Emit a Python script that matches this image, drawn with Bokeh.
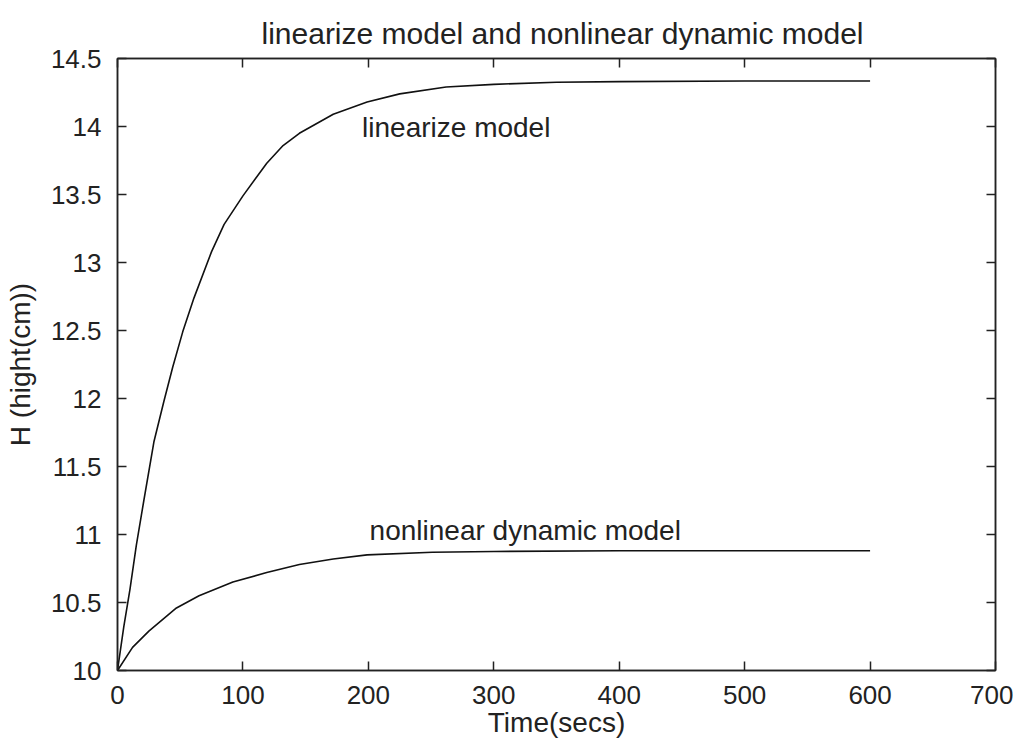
from bokeh.plotting import figure
from bokeh.models import LinearAxis, FixedTicker, Range1d, CustomJSTickFormatter
from bokeh.core.properties import value
from bokeh.embed import file_html
from bokeh.resources import INLINE

# ---- data ----
lin_t = [0, 5, 10, 15, 21, 29, 37, 44, 52, 61, 75, 85, 100, 119, 132, 145, 172, 199, 225, 262, 300, 350, 400, 500, 600]
lin_h = [10.00, 10.32, 10.60, 10.92, 11.25, 11.68, 11.98, 12.23, 12.49, 12.74, 13.08, 13.28, 13.49, 13.73, 13.86,
         13.95, 14.09, 14.18, 14.24, 14.29, 14.31, 14.325, 14.33, 14.335, 14.335]

non_t = [0, 12, 25, 47, 65, 92, 119, 145, 172, 199, 251, 300, 400, 500, 600]
non_h = [10.00, 10.17, 10.29, 10.46, 10.55, 10.65, 10.72, 10.78, 10.82, 10.85, 10.87, 10.875, 10.88, 10.88, 10.88]

x_ticks = [0, 100, 200, 300, 400, 500, 600, 700]
x_tick_labels = ["0", "100", "200", "300", "400", "500", "600", "700"]
y_ticks = [10, 10.5, 11, 11.5, 12, 12.5, 13, 13.5, 14, 14.5]
y_tick_labels = ["10", "10.5", "11", "11.5", "12", "12.5", "13", "13.5", "14", "14.5"]

label_names = ["linearize model", "nonlinear dynamic model"]
label_x = [195, 201]
label_y = [13.99, 11.03]

FONT = "Liberation Sans"

p = figure(width=1013, height=745, output_backend="svg", toolbar_location=None,
           x_range=Range1d(0, 700), y_range=Range1d(10, 14.5),
           min_border_left=117, min_border_right=18, min_border_top=58, min_border_bottom=75,
           x_axis_label="Time(secs)", y_axis_label="H (hight(cm))")

p.title.text = "linearize model and nonlinear dynamic model"
p.title.align = "left"
p.title.offset = 144
p.title.standoff = 18
p.title.text_font = FONT
p.title.text_font_size = "30px"
p.title.text_font_style = "normal"
p.title.text_color = "#222222"

p.grid.visible = False
p.outline_line_color = "#222222"
p.outline_line_width = 1.5
p.background_fill_color = "white"
p.border_fill_color = "white"

def style_axis(ax):
    ax.major_tick_in = 9
    ax.major_tick_out = 0
    ax.minor_tick_line_color = None
    ax.axis_line_color = "#222222"
    ax.axis_line_width = 1.5
    ax.major_tick_line_color = "#222222"
    ax.major_tick_line_width = 1.5
    ax.major_label_text_font = FONT
    ax.major_label_text_font_size = "26px"
    ax.major_label_text_color = "#222222"
    ax.axis_label_text_font = FONT
    ax.axis_label_text_font_size = "28px"
    ax.axis_label_text_font_style = "normal"
    ax.axis_label_text_color = "#222222"

xa = p.xaxis[0]
xa.ticker = FixedTicker(ticks=x_ticks)
xa.major_label_overrides = {t: l for t, l in zip(x_ticks, x_tick_labels)}
style_axis(xa)
xa.major_label_standoff = 15
xa.axis_label_standoff = 0

ya = p.yaxis[0]
ya.ticker = FixedTicker(ticks=y_ticks)
ya.major_label_overrides = {t: l for t, l in zip(y_ticks, y_tick_labels)}
style_axis(ya)
ya.major_label_standoff = 16
ya.axis_label_standoff = 12

blank = CustomJSTickFormatter(code="return ''")
ra = LinearAxis(ticker=FixedTicker(ticks=y_ticks), formatter=blank)
style_axis(ra)
ra.major_label_text_font_size = "1px"
p.add_layout(ra, "right")
ta = LinearAxis(ticker=FixedTicker(ticks=x_ticks), formatter=blank)
style_axis(ta)
ta.major_label_text_font_size = "1px"
p.add_layout(ta, "above")

p.line(lin_t, lin_h, line_color="#111111", line_width=1.6)
p.line(non_t, non_h, line_color="#111111", line_width=1.6)

p.text(x=label_x, y=label_y, text=label_names, text_font=value(FONT), text_font_size="28px",
       text_baseline="middle", text_align="left", text_color="#222222")

open("out.html", "w").write(file_html(p, INLINE))
